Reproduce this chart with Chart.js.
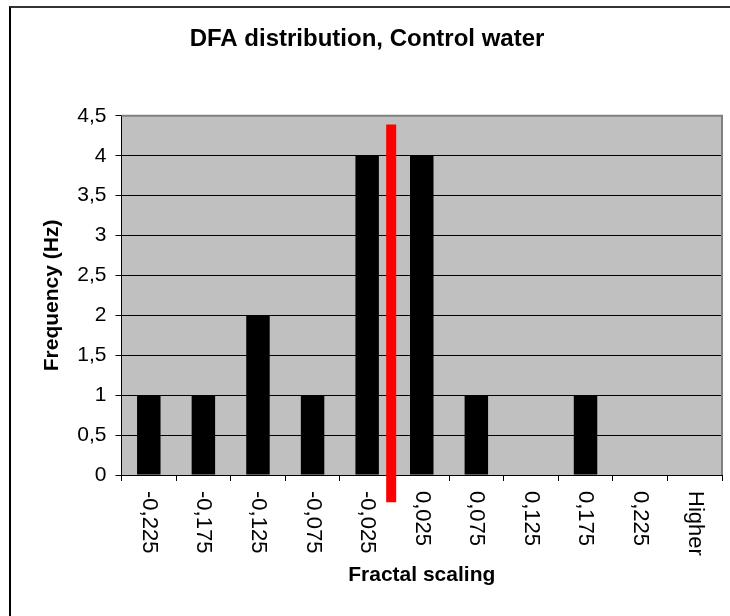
<!DOCTYPE html>
<html lang="en">
<head>
<meta http-equiv="Content-Type" content="text/html; charset=utf-8" />
<title>DFA distribution, Control water</title>
<script src="https://cdn.jsdelivr.net/npm/chart.js@4.4.0/dist/chart.umd.min.js"></script>
<style>
  body { margin: 0; background: #fff; overflow: hidden; }
  #frame { position: absolute; left: 9px; top: 6px; width: 760px; height: 660px;
           border-left: 2px solid #000; border-top: 2px solid #333; }
  #chart-area { position: absolute; left: 0; top: 0; }
</style>
</head>
<body>
<div id="frame"></div>
<canvas id="chart-area" width="730" height="616"></canvas>

<script>
		// histogram bins and counts
		var categories = ['-0,225', '-0,175', '-0,125', '-0,075', '-0,025', '0,025', '0,075', '0,125', '0,175', '0,225', 'Higher'];
		var frequency = [1, 1, 2, 1, 4, 4, 1, 0, 1, 0, 0];

		// red marker line (x in fractal scaling units)
		var markerX = [-0.003, -0.003];
		var markerY = [4.39, -0.34];

		var fontFamily = '"Liberation Sans", Arial, sans-serif';
		Chart.defaults.font.family = fontFamily;
		Chart.defaults.color = '#000';

		// grey plot background + grey top/right edge
		var plotFrame = {
			id: 'plotFrame',
			beforeDraw: function(chart) {
				var a = chart.chartArea, ctx = chart.ctx;
				ctx.save();
				ctx.fillStyle = '#c0c0c0';
				ctx.fillRect(a.left, a.top, a.right - a.left, a.bottom - a.top);
				ctx.restore();
			},
			beforeDatasetsDraw: function(chart) {
				var a = chart.chartArea, ctx = chart.ctx;
				ctx.save();
				ctx.strokeStyle = '#808080';
				ctx.lineWidth = 2;
				ctx.beginPath();
				ctx.moveTo(a.left, a.top);
				ctx.lineTo(a.right, a.top);
				ctx.lineTo(a.right, a.bottom);
				ctx.stroke();
				ctx.restore();
			}
		};

		// category labels turned 90 degrees clockwise
		var xLabels = {
			id: 'xLabels',
			afterDraw: function(chart) {
				var ctx = chart.ctx, xs = chart.scales.x;
				ctx.save();
				ctx.font = '22px ' + fontFamily;
				ctx.fillStyle = '#000';
				ctx.textAlign = 'left';
				ctx.textBaseline = 'middle';
				xs.ticks.forEach(function(t, i) {
					ctx.save();
					ctx.translate(xs.getPixelForTick(i), xs.top + 16);
					ctx.rotate(Math.PI / 2);
					ctx.fillText(chart.data.labels[i], 0, 0);
					ctx.restore();
				});
				ctx.restore();
			}
		};

		var config = {
			type: 'bar',
			data: {
				labels: categories,
				datasets: [{
					label: 'Frequency',
					data: frequency,
					backgroundColor: '#000',
					barPercentage: 0.43,
					categoryPercentage: 1,
					grouped: false,
					order: 1
				}, {
					type: 'line',
					label: 'marker',
					data: markerX.map(function(x, i) { return { x: x, y: markerY[i] }; }),
					xAxisID: 'xr',
					borderColor: '#ff0000',
					borderWidth: 10,
					borderCapStyle: 'butt',
					pointRadius: 0,
					clip: false,
					order: 0
				}]
			},
			options: {
				responsive: false,
				animation: false,
				devicePixelRatio: 1,
				layout: { padding: { left: 12, right: 8, top: 0, bottom: 0 } },
				plugins: {
					legend: { display: false },
					tooltip: { enabled: false },
					title: {
						display: true,
						text: 'DFA distribution, Control water',
						color: '#000',
						font: { size: 24, weight: 'bold' },
						padding: { top: 25, bottom: 62 }
					}
				},
				scales: {
					x: {
						grid: { drawOnChartArea: false, color: '#000', tickLength: 6 },
						border: { color: '#000', width: 1 },
						ticks: { display: false },
						title: {
							display: true,
							text: 'Fractal scaling',
							color: '#000',
							font: { size: 21, weight: 'bold' },
							padding: { top: 0, bottom: 28 }
						},
						afterFit: function(scale) { scale.height = 141; }
					},
					xr: {
						type: 'linear',
						display: false,
						offset: false,
						grid: { offset: false },
						min: -0.25,
						max: 0.3
					},
					y: {
						min: 0,
						max: 4.5,
						ticks: {
							stepSize: 0.5,
							color: '#000',
							font: { size: 21 },
							padding: 9,
							callback: function(v) { return String(v).replace('.', ','); }
						},
						grid: {
							color: function(c) { return c.tick && c.tick.value === 4.5 ? '#808080' : '#000'; },
							tickColor: '#000',
							tickLength: 6
						},
						border: { color: '#000', width: 1 },
						title: {
							display: true,
							text: 'Frequency (Hz)',
							color: '#000',
							font: { size: 21, weight: 'bold' },
							padding: { top: 28, bottom: 0 }
						},
						afterFit: function(scale) { scale.width = 109.5; }
					}
				}
			},
			plugins: [plotFrame, xLabels]
		};

		window.onload = function() {
			var ctx = document.getElementById('chart-area').getContext('2d');
			window.myBar = new Chart(ctx, config);
		};
</script>
</body>
</html>
